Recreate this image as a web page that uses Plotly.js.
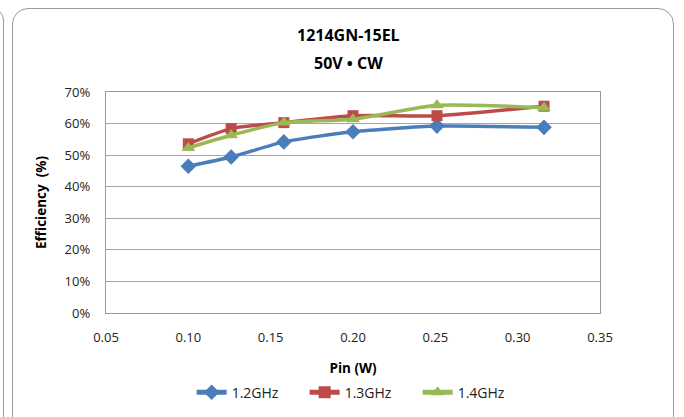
<!DOCTYPE html>
<html>
<head>
<meta charset="utf-8">
<script src="https://cdn.plot.ly/plotly-3.0.1.min.js"></script>
<style>
  html, body { margin: 0; padding: 0; background: #fff; }
  #wrap { position: relative; width: 684px; height: 417px; overflow: hidden; }
  #chart { position: absolute; left: 0; top: 0; width: 684px; height: 417px; }
  #frame { position: absolute; left: 12px; top: 8px; width: 660px; height: 430px;
           border: 1.5px solid #9a9a9a; border-radius: 16px; pointer-events: none; }
  #prev { position: absolute; left: -20px; top: 8px; width: 22px; height: 430px;
          border: 1.5px solid #9a9a9a; border-radius: 16px; pointer-events: none; }
</style>
</head>
<body>
<div id="wrap">
  <div id="chart"></div>
  <div id="frame"></div>
  <div id="prev"></div>
</div>
<script>
const pin = [0.10, 0.126, 0.158, 0.20, 0.251, 0.316];
const eff12 = [0.465, 0.494, 0.542, 0.574, 0.592, 0.588];
const eff13 = [0.536, 0.584, 0.603, 0.625, 0.625, 0.655];
const eff14 = [0.523, 0.563, 0.603, 0.614, 0.658, 0.650];
const seriesNames = ['1.2GHz', '1.3GHz', '1.4GHz'];
const titleLines = ['1214GN-15EL', '50V • CW'];
const xTicks = [0.05, 0.10, 0.15, 0.20, 0.25, 0.30, 0.35];
const yTicks = [0, 0.1, 0.2, 0.3, 0.4, 0.5, 0.6, 0.7];

const FONT = '"Open Sans", "Noto Sans", sans-serif';
const colors = ['#4a7ebb', '#be4b48', '#98b954'];
const symbols = ['diamond', 'square', 'triangle-up'];
const data = [eff12, eff13, eff14].map((y, i) => ({
  x: pin, y: y, name: seriesNames[i], type: 'scatter', mode: 'lines+markers',
  line: { color: colors[i], width: 3.5, shape: 'spline', smoothing: 0.6 },
  marker: { symbol: symbols[i], color: colors[i], size: i === 1 ? 11 : 12 }
}));

const layout = {
  width: 684, height: 417,
  margin: { l: 106, r: 84, t: 92, b: 104 },
  paper_bgcolor: '#fff', plot_bgcolor: '#fff',
  font: { family: FONT, size: 12, color: '#222' },
  annotations: titleLines.map((t, i) => ({
    text: '<b>' + t + '</b>', xref: 'paper', yref: 'paper', x: 0.49, y: 1 + (57 - 28 * i) / 221,
    xanchor: 'center', yanchor: 'middle', showarrow: false,
    font: { family: FONT, size: 16, color: '#000' }
  })),
  xaxis: {
    range: [0.05, 0.35], tickvals: xTicks, ticktext: xTicks.map(v => v.toFixed(2)),
    showgrid: false, zeroline: false, showline: true, linecolor: '#999', linewidth: 1.2,
    mirror: true, ticks: '', ticklabelstandoff: 12, tickfont: { size: 13, color: '#222' },
    title: { text: '<b>Pin (W)</b>', font: { size: 13.5, color: '#000' }, standoff: 20 }
  },
  yaxis: {
    range: [0, 0.7], tickvals: yTicks, ticktext: yTicks.map(v => Math.round(v * 100) + '%'),
    showgrid: true, gridcolor: '#a6a6a6', gridwidth: 1.2, zeroline: false,
    showline: true, linecolor: '#999', linewidth: 1.2, mirror: true, ticks: '',
    ticklabelstandoff: 12, tickfont: { size: 13, color: '#222' },
    title: { text: '<b>Efficiency  (%)</b>', font: { size: 13.5, color: '#000' }, standoff: 14 }
  },
  showlegend: true,
  legend: {
    orientation: 'h', x: 0.528, xanchor: 'center', xref: 'container',
    y: 0.02, yanchor: 'bottom', yref: 'container',
    font: { size: 14, color: '#222' }, itemsizing: 'constant',
    entrywidth: 68, entrywidthmode: 'pixels', tracegroupgap: 0
  }
};
Plotly.newPlot('chart', data, layout, { displayModeBar: false, staticPlot: true });
</script>
</body>
</html>
